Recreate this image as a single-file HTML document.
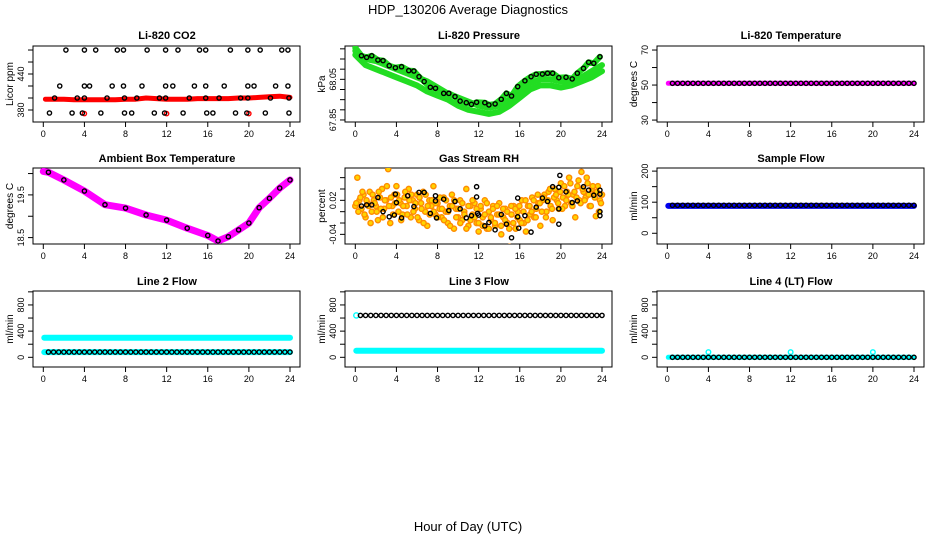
<!DOCTYPE html>
<html><head><meta charset="utf-8"><style>
html,body{margin:0;padding:0;background:#fff;}
svg{display:block;font-family:"Liberation Sans",Arial,sans-serif;}
</style></head><body>
<svg id="chart" width="936" height="540" viewBox="0 0 936 540" xmlns="http://www.w3.org/2000/svg">
<text x="468" y="14" font-size="13" text-anchor="middle">HDP_130206  Average Diagnostics</text>
<text x="468" y="531" font-size="13" text-anchor="middle">Hour of Day (UTC)</text>
</svg>
<script>
const xTicks = [0,4,8,12,16,20,24];
const hourly = [0,1,2,3,4,5,6,7,8,9,10,11,12,13,14,15,16,17,18,19,20,21,22,23,24];

// CO2
const co2Hours = [2.2,4,5.1,7.2,7.8,10.1,11.9,13.1,15.2,15.8,18.2,19.9,21.1,23.2,23.8,
 1.6,4,4.5,6.7,7.8,9.6,11.9,12.6,14.7,15.8,17.6,19.9,20.5,22.6,23.8,
 1.1,3.3,4,6.2,7.9,9.1,11.3,11.9,14.2,15.8,17.1,19.2,19.9,22.1,23.9,
 0.6,2.8,3.8,5.6,7.9,8.6,10.8,11.8,13.6,15.9,16.5,18.7,19.8,21.6,23.9];
const co2Vals = [480,480,480,480,480,480,480,480,480,480,480,480,480,480,480,
 420,420,420,420,420,420,420,420,420,420,420,420,420,420,420,
 400,400,400,400,400,400,400,400,400,400,400,400,400,400,400,
 375,375,375,375,375,375,375,375,375,375,375,375,375,375,375];
const co2Red = [398,398,398,397,397,397,397,397,398,398,400,399,398,398,398,399,399,399,399,400,400,401,402,403,401];
const co2RedOutHours = [4,12,20];
const co2RedOutVals = [374,374,374];

// Pressure
const presHours = [0.6,1.1,1.6,2.2,2.7,3.3,3.9,4.5,5.2,5.7,6.2,6.7,7.3,7.8,8.6,9.1,9.7,10.2,10.8,11.3,11.8,12.6,13.0,13.6,14.2,14.7,15.2,15.8,16.5,17.1,17.6,18.2,18.7,19.2,19.8,20.5,21.1,21.6,22.2,22.7,23.2,23.8];
const presVals = [68.166,68.158,68.166,68.145,68.142,68.117,68.107,68.112,68.093,68.091,68.063,68.039,68.011,68.006,67.981,67.981,67.965,67.943,67.935,67.927,67.937,67.935,67.924,67.929,67.952,67.981,67.968,68.014,68.043,68.063,68.075,68.076,68.080,68.080,68.058,68.060,68.052,68.080,68.104,68.134,68.129,68.161];
const presGreenB = [68.19,68.15,68.14,68.12,68.10,68.08,68.06,68.04,68.01,67.98,67.96,67.94,67.92,67.91,67.92,67.95,67.99,68.03,68.05,68.05,68.04,68.04,68.06,68.09,68.12];
const presGreenC = [68.17,68.12,68.10,68.08,68.06,68.04,68.02,67.99,67.97,67.95,67.92,67.90,67.89,67.88,67.89,67.92,67.96,68.00,68.02,68.02,68.01,68.02,68.04,68.06,68.09];

// Li-820 temperature
const ltMagenta = [51,51,51,51,51,51,51,51,51,51,51,51,51,51,51,51,51,51,51,51,51,51,51,51,51];
const ltBlack = 51;

// Ambient box temperature
const ambHours = [0.5,2,4,6,8,10,12,14,16,17,18,19,20,21,22,23,24];
const ambVals = [20.03,19.85,19.59,19.27,19.19,19.03,18.91,18.72,18.55,18.42,18.52,18.68,18.84,19.2,19.42,19.66,19.85];

// Gas stream RH
const rhBlackHours = [0.6,1.1,1.6,2.2,2.7,3.3,3.9,3.8,4.0,4.5,5.1,5.7,6.2,6.7,7.3,7.8,7.8,7.9,8.6,9.1,9.7,10.2,10.8,11.3,11.8,11.8,11.9,12.0,12.6,13.0,13.6,14.2,14.7,15.2,15.8,15.8,15.9,16.5,17.1,17.6,18.2,18.7,19.2,19.8,19.8,19.9,19.8,20.5,21.1,21.6,22.2,22.7,23.2,23.8,23.8,23.8,23.8];
const rhBlackVals = [0.010,0.012,0.012,0.025,0.000,-0.009,0.031,-0.006,0.016,-0.011,0.028,0.009,0.034,0.034,-0.003,0.028,0.019,-0.011,0.022,0.002,0.018,0.005,-0.011,-0.007,0.044,0.026,-0.003,-0.006,-0.025,-0.019,-0.032,-0.005,-0.022,-0.046,0.024,-0.009,-0.029,-0.007,-0.036,0.008,0.024,0.018,0.044,0.005,0.043,0.064,-0.022,0.035,0.016,0.019,0.044,0.038,0.029,0.038,0.031,0.000,-0.007];
const rhOrangeA = [0.01,0.06,0.02,0.005,0.03,-0.01,0.015,0.035,0.0,0.02,
 0.01,-0.015,0.025,0.04,0.005,0.02,0.075,-0.02,0.01,0.03,
 0.045,0.0,0.015,-0.005,0.025,0.01,0.04,-0.01,0.02,0.005,
 0.03,-0.015,0.015,0.035,0.0,-0.025,0.02,0.01,0.045,-0.005,
 0.015,0.005,-0.01,0.025,0.0,-0.02,0.01,0.03,-0.03,0.005,
 -0.01,0.02,-0.015,0.0,0.04,-0.025,0.01,-0.005,0.015,-0.02,
 -0.035,0.005,-0.01,0.02,-0.03,0.0,-0.015,0.01,-0.025,-0.005,
 0.015,-0.04,-0.01,0.005,-0.02,-0.062,-0.005,0.01,-0.03,0.0,
 -0.015,0.02,-0.02,-0.035,0.01,-0.005,0.025,-0.01,0.005,0.015,
 -0.025,0.02,0.03,0.0,0.035,0.01,-0.015,0.04,0.02,0.005,
 0.05,0.025,0.01,0.035,0.06,0.015,0.03,-0.01,0.045,0.02,
 0.07,0.035,0.025,0.05,0.01,0.04,0.03,-0.008,0.045,0.02,0.03];
const rhOrangeB = [0.015,0.0,0.025,0.035,-0.005,0.02,0.01,-0.02,0.03,0.015,
 0.0,0.035,0.005,-0.01,0.02,0.045,0.01,0.025,-0.005,0.015,
 0.03,0.02,-0.015,0.01,0.035,-0.005,0.02,0.03,0.0,0.015,
 -0.01,0.025,0.005,-0.02,0.03,0.01,-0.005,0.02,0.0,0.015,
 -0.01,0.025,0.005,-0.015,0.02,0.0,-0.025,0.01,0.02,-0.01,
 0.005,-0.02,0.015,-0.005,-0.03,0.01,-0.015,0.02,-0.01,0.005,
 -0.02,0.01,-0.025,-0.005,0.015,-0.03,-0.01,0.005,-0.02,0.01,
 -0.005,-0.025,0.005,-0.015,0.0,-0.03,0.01,-0.02,0.005,-0.01,
 0.01,-0.02,0.0,0.02,-0.015,0.01,0.0,0.02,-0.01,0.03,
 0.015,0.0,0.025,-0.01,0.02,0.04,0.005,0.025,0.03,0.015,
 0.035,0.005,0.045,0.02,0.03,0.05,0.01,0.035,0.025,0.055,
 0.015,0.04,0.02,0.06,0.03,0.01,0.045,0.025,0.035,0.0,0.015];

// Sample flow
const sfBlue = [88,88,88,88,88,88,88,88,88,88,88,88,88,88,88,88,88,88,88,88,88,88,88,88,88];
const sfBlack = 90;

// Line 2 flow
const l2CyanHigh = [300,300,300,300,300,300,300,300,300,300,300,300,300,300,300,300,300,300,300,300,300,300,300,300,300];
const l2CyanLow = [80,80,80,80,80,80,80,80,80,80,80,80,80,80,80,80,80,80,80,80,80,80,80,80,80];
const l2Black = 80;
// Line 3 flow
const l3CyanLow = [100,100,100,100,100,100,100,100,100,100,100,100,100,100,100,100,100,100,100,100,100,100,100,100,100];
const l3Black = 640;
// Line 4 flow
const l4CyanLow = [0,0,0,0,0,0,0,0,0,0,0,0,0,0,0,0,0,0,0,0,0,0,0,0,0];
const l4CyanOutHours = [4,12,20];
const l4CyanOutVals = [80,80,80];
const l4Black = 0;

const NS = 'http://www.w3.org/2000/svg';
const svg = document.getElementById('chart');
function mk(tag, attrs, parent){const e=document.createElementNS(NS,tag);for(const k in attrs)e.setAttribute(k,attrs[k]);(parent||svg).appendChild(e);return e;}

const colX = [0,312,624];
const rowY = [[46,122,36],[168,244,159],[291,367,282]];
const halfHours = [];
for(let i=1;i<=48;i++) halfHours.push(i*0.5);

function panel(col,row,name,title,ylab,ymin,ymax,ticks,labels){
  const cx=colX[col], top=rowY[row][0], bot=rowY[row][1];
  const g=mk('g',{});
  
  
  const xs=h=>cx+43.3+h*(246.7/24);
  const ys=v=>bot-(v-ymin)/(ymax-ymin)*(bot-top);
  const t=mk('text',{x:cx+167,y:rowY[row][2]+3,'font-size':11,'font-weight':'bold','text-anchor':'middle'},g);
  t.textContent=title;
  
  
  const box=mk('rect',{x:cx+33,y:top,width:267,height:bot-top,fill:'none',stroke:'#000','stroke-width':1},g);
  
  
  xTicks.forEach(h=>{
    mk('line',{x1:xs(h),x2:xs(h),y1:bot,y2:bot+5,stroke:'#000'},g);
    const l=mk('text',{x:xs(h),y:bot+15,'font-size':9,'text-anchor':'middle'},g);
    l.textContent=h;
    
    
  });
  ticks.forEach(v=>{mk('line',{x1:cx+28,x2:cx+33,y1:ys(v),y2:ys(v),stroke:'#000'},g);});
  labels.forEach(v=>{
    const y=ys(v);
    const l=mk('text',{x:cx+24,y:y,'font-size':9,'text-anchor':'middle',transform:`rotate(-90 ${cx+24} ${y})`},g);
    l.textContent=v;
    
    
  });
  const yl=mk('text',{x:cx+13,y:(top+bot)/2,'font-size':10,'text-anchor':'middle',transform:`rotate(-90 ${cx+13} ${(top+bot)/2})`},g);
  yl.textContent=ylab;
  
  
  const clip='c'+col+row;
  const cp=mk('clipPath',{id:clip},g); mk('rect',{x:cx+33,y:top,width:267,height:bot-top},cp);
  const d=mk('g',{'clip-path':`url(#${clip})`},g);
  return {xs,ys,d};
}
function band(p,hrs,vals,color,w,name){
  const pts=hrs.map((h,i)=>p.xs(h).toFixed(1)+','+p.ys(vals[i]).toFixed(1)).join(' ');
  const e=mk('polyline',{points:pts,fill:'none',stroke:color,'stroke-width':w,'stroke-linecap':'round','stroke-linejoin':'round'},p.d);
  
  
}
function pts(p,hrs,vals,color,name,fill,r){
  hrs.forEach((h,i)=>{
    const c=mk('circle',{cx:p.xs(h),cy:p.ys(vals[i]),r:r||2.1,fill:fill||'none',stroke:color,'stroke-width':1.4},p.d);
    
    
  });
}
const rep=(v,n)=>Array(n).fill(v);

// Row 1
let p=panel(0,0,'panel-co2','Li-820 CO2','Licor ppm',360,486.7,[380,400,420,440,460,480],[380,440]);
band(p,hourly.map(h=>Math.max(h,0.2)),co2Red,'#ff0000',5,'co2-red-series');
pts(p,co2RedOutHours,co2RedOutVals,'#ff0000','co2-red-point');
pts(p,co2Hours,co2Vals,'#000','co2-black-point');

p=panel(1,0,'panel-pressure','Li-820 Pressure','kPa',67.84,68.214,[67.85,67.9,67.95,68.0,68.05,68.1,68.15,68.2],[67.85,68.05]);
band(p,hourly,presGreenC,'#22dd22',6,'pressure-green-band-low');
band(p,hourly,presGreenB,'#22dd22',6,'pressure-green-band-mid');
band(p,[0].concat(presHours),[68.205].concat(presVals),'#22dd22',6,'pressure-green-band-high');
pts(p,presHours,presVals,'#000','pressure-black-point');

p=panel(2,0,'panel-li820-temp','Li-820 Temperature','degrees C',28.9,72.3,[30,40,50,60,70],[30,50,70]);
band(p,hourly.map(h=>Math.max(h,0.1)),ltMagenta,'#ff00ff',5,'li820-temp-magenta');
pts(p,halfHours,rep(ltBlack,48),'#000','li820-temp-black-point');

// Row 2
p=panel(0,1,'panel-ambient','Ambient Box Temperature','degrees C',18.35,20.13,[18.5,19,19.5,20],[18.5,19.5]);
band(p,[0].concat(ambHours),[20.05].concat(ambVals),'#ff00ff',7,'ambient-magenta-band');
pts(p,ambHours,ambVals,'#000','ambient-black-point');

p=panel(1,1,'panel-rh','Gas Stream RH','percent',-0.057,0.077,[-0.04,-0.02,0,0.02,0.04,0.06],[-0.04,0.02]);
const hA=rhOrangeA.map((v,i)=>i*24/(rhOrangeA.length-1));
const hB=rhOrangeB.map((v,i)=>0.1+i*23.8/(rhOrangeB.length-1));
pts(p,hA,rhOrangeA,'#ff8c00','rh-orange-point','#ffd400',2.6);
pts(p,hB,rhOrangeB,'#ff8c00','rh-orange-point','#ffd400',2.6);
pts(p,rhBlackHours,rhBlackVals,'#000','rh-black-point');

p=panel(2,1,'panel-sample-flow','Sample Flow','ml/min',-34.5,210,[0,50,100,150,200],[0,100,200]);
band(p,hourly.map(h=>Math.max(h,0.1)),sfBlue,'#0000ee',6,'sample-flow-blue');
pts(p,halfHours,rep(sfBlack,48),'#000','sample-flow-black-point');

// Row 3
const flowTicks=[0,200,400,600,800,1000], flowLabels=[0,400,800];
p=panel(0,2,'panel-line2','Line 2 Flow','ml/min',-148,1013,flowTicks,flowLabels);
band(p,hourly.map(h=>Math.max(h,0.1)),l2CyanHigh,'#00ffff',6,'line2-cyan-high');
band(p,hourly.map(h=>Math.max(h,0.1)),l2CyanLow,'#00ffff',6,'line2-cyan-low');
pts(p,halfHours,rep(l2Black,48),'#000','line2-black-point');

p=panel(1,2,'panel-line3','Line 3 Flow','ml/min',-148,1013,flowTicks,flowLabels);
band(p,hourly.map(h=>Math.max(h,0.1)),l3CyanLow,'#00ffff',6,'line3-cyan-low');
pts(p,[0.1],[l3Black],'#00ffff','line3-cyan-point',null,2.6);
pts(p,halfHours,rep(l3Black,48),'#000','line3-black-point');

p=panel(2,2,'panel-line4','Line 4 (LT) Flow','ml/min',-148,1013,flowTicks,flowLabels);
band(p,hourly.map(h=>Math.max(h,0.1)),l4CyanLow,'#00ffff',5,'line4-cyan-low');
pts(p,l4CyanOutHours,l4CyanOutVals,'#00ffff','line4-cyan-point',null,2.3);
pts(p,halfHours,rep(l4Black,48),'#000','line4-black-point');
</script>
</body></html>
